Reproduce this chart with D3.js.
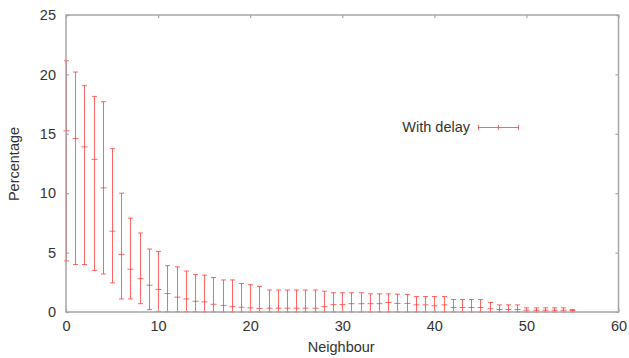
<!DOCTYPE html>
<html>
<head>
<meta charset="utf-8">
<script src="https://cdn.jsdelivr.net/npm/d3@7"></script>
<style>
  html, body { margin: 0; padding: 0; background: #fff; }
  svg { display: block; font-family: "Liberation Sans", Arial, sans-serif; }
</style>
</head>
<body>
<svg id="chart" width="629" height="358"></svg>
<script>
const neighbour = d3.range(0, 56);
const meanVals = [15.25, 14.6, 13.9, 12.85, 10.45, 6.8, 4.85, 3.6, 2.8, 2.25,
  1.9, 1.55, 1.25, 1.1, 0.9, 0.85, 0.65, 0.55, 0.45, 0.4,
  0.35, 0.3, 0.32, 0.32, 0.32, 0.32, 0.32, 0.32, 0.45, 0.62,
  0.62, 0.7, 0.7, 0.7, 0.7, 0.8, 0.72, 0.72, 0.6, 0.6,
  0.52, 0.6, 0.38, 0.38, 0.38, 0.38, 0.27, 0.21, 0.21, 0.21,
  0.15, 0.15, 0.15, 0.15, 0.15, 0.13];
const lowVals = [4.3, 4.0, 4.0, 3.5, 3.2, 2.45, 1.1, 1.1, 0.7, 0.2,
  0.05, 0.02, 0.02, 0.02, 0.02, 0, 0, 0, 0, 0,
  0, 0, 0, 0, 0, 0, 0, 0, 0, 0,
  0, 0, 0, 0, 0, 0, 0, 0, 0, 0,
  0, 0, 0, 0, 0, 0, 0, 0, 0, 0,
  0, 0, 0, 0, 0, 0];
const highVals = [21.15, 20.2, 19.05, 18.15, 17.7, 13.75, 10.0, 7.9, 6.65, 5.3,
  5.1, 3.9, 3.8, 3.45, 3.15, 3.1, 2.9, 2.7, 2.7, 2.4,
  2.3, 2.15, 1.85, 1.85, 1.85, 1.85, 1.85, 1.85, 1.75, 1.62,
  1.62, 1.62, 1.62, 1.53, 1.53, 1.53, 1.5, 1.48, 1.3, 1.3,
  1.3, 1.3, 1.05, 1.05, 1.05, 1.05, 0.8, 0.6, 0.6, 0.6,
  0.35, 0.35, 0.35, 0.35, 0.35, 0.2];
const xTicks = [0, 10, 20, 30, 40, 50, 60];
const yTicks = [0, 5, 10, 15, 20, 25];
const seriesName = "With delay";
const xLabel = "Neighbour";
const yLabel = "Percentage";

const data = neighbour.map((n, i) => ({x: n, m: meanVals[i], lo: lowVals[i], hi: highVals[i]}));

const svg = d3.select("#chart");
const mLeft = 66, mRight = 618.5, mTop = 15, mBottom = 312;
const x = d3.scaleLinear().domain([0, 60]).range([mLeft, mRight]);
const y = d3.scaleLinear().domain([0, 25]).range([mBottom, mTop]);

const frameColor = "#a6a6a6";
const textColor = "#333";
const red = "#ff3333";

// error bars
const g = svg.append("g").attr("stroke", red).attr("stroke-width", 1).attr("stroke-opacity", 0.75).attr("fill", "none");
const cap = 2.5, plus = 3;
data.forEach(d => {
  const cx = Math.round(x(d.x)) + 0.5;
  g.append("line").attr("x1", cx).attr("x2", cx).attr("y1", y(d.lo)).attr("y2", y(d.hi));
  g.append("line").attr("x1", cx - cap).attr("x2", cx + cap).attr("y1", y(d.lo)).attr("y2", y(d.lo));
  g.append("line").attr("x1", cx - cap).attr("x2", cx + cap).attr("y1", y(d.hi)).attr("y2", y(d.hi));
  g.append("line").attr("x1", cx - plus).attr("x2", cx + plus).attr("y1", y(d.m)).attr("y2", y(d.m));
});

// frame
svg.append("rect").attr("x", mLeft).attr("y", mTop).attr("width", mRight - mLeft).attr("height", mBottom - mTop)
  .attr("fill", "none").attr("stroke", frameColor).attr("stroke-width", 1.5);

// axes with inward ticks
const xAxisB = d3.axisBottom(x).tickValues(xTicks).tickSize(-3).tickPadding(9);
const xAxisT = d3.axisTop(x).tickValues(xTicks).tickSize(-3).tickFormat("");
const yAxisL = d3.axisLeft(y).tickValues(yTicks).tickSize(-3).tickPadding(10);
const yAxisR = d3.axisRight(y).tickValues(yTicks).tickSize(-3).tickFormat("");

function style(sel) {
  sel.select(".domain").remove();
  sel.selectAll(".tick line").attr("stroke", frameColor).attr("stroke-width", 1.2);
  sel.selectAll(".tick text").attr("fill", textColor).attr("font-size", 14.5)
    .attr("font-family", "Liberation Sans, Arial, sans-serif");
}
svg.append("g").attr("transform", `translate(0,${mBottom})`).call(xAxisB).call(style);
svg.append("g").attr("transform", `translate(0,${mTop})`).call(xAxisT).call(style);
svg.append("g").attr("transform", `translate(${mLeft},0)`).call(yAxisL).call(style);
svg.append("g").attr("transform", `translate(${mRight},0)`).call(yAxisR).call(style);

// axis labels
svg.append("text").attr("x", (mLeft + mRight) / 2 - 1).attr("y", 352).attr("text-anchor", "middle")
  .attr("fill", textColor).attr("font-size", 14.5).text(xLabel);
svg.append("text").attr("transform", `translate(19,164) rotate(-90)`).attr("text-anchor", "middle")
  .attr("fill", textColor).attr("font-size", 14.5).text(yLabel);

// legend
const ly = 127;
svg.append("text").attr("x", 470).attr("y", ly).attr("dy", "0.35em").attr("text-anchor", "end")
  .attr("fill", textColor).attr("font-size", 14.5).text(seriesName);
const lg = svg.append("g").attr("stroke", red).attr("stroke-width", 1).attr("stroke-opacity", 0.75);
lg.append("line").attr("x1", 478).attr("x2", 519).attr("y1", ly + 0.5).attr("y2", ly + 0.5);
lg.append("line").attr("x1", 478.5).attr("x2", 478.5).attr("y1", ly - 2).attr("y2", ly + 3);
lg.append("line").attr("x1", 518.5).attr("x2", 518.5).attr("y1", ly - 2).attr("y2", ly + 3);
lg.append("line").attr("x1", 498.5).attr("x2", 498.5).attr("y1", ly - 2).attr("y2", ly + 3);
</script>
</body>
</html>
